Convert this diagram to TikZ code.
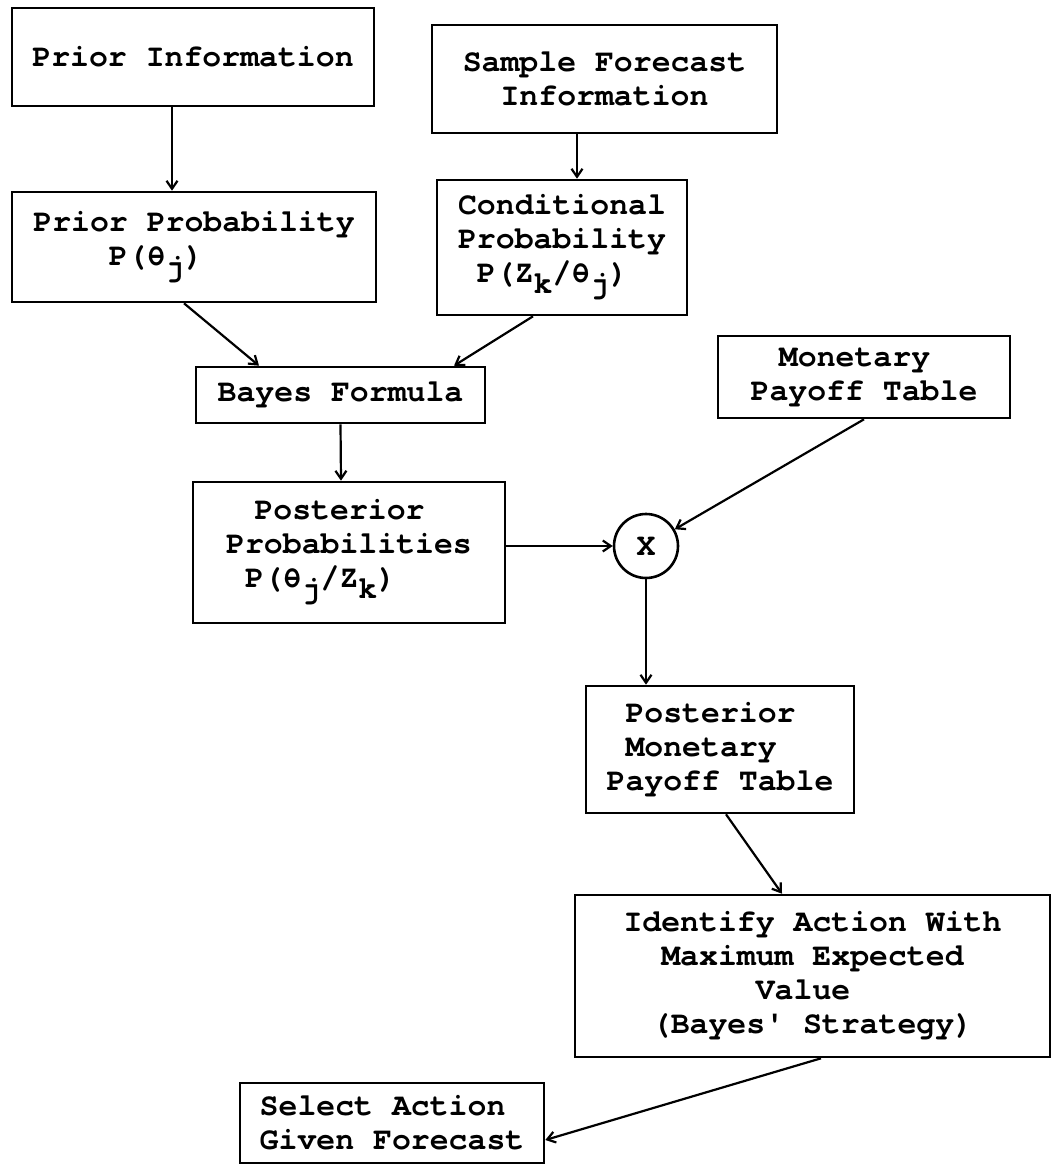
\documentclass[tikz,border=0pt]{standalone}
\usepackage{fontspec}
\newfontfamily\typer{TeX Gyre Cursor}[Ligatures={NoCommon}]
\usetikzlibrary{arrows.meta}
\newcommand{\lo}[1]{\raisebox{-11pt}{#1}}
\newcommand{\ind}[1]{\hspace*{#1em}}
\begin{document}
\begin{tikzpicture}[x=1pt,y=-1pt,
  box/.style={draw, line width=2.6pt, inner sep=0pt, align=left,
    font=\fontsize{31.5}{34}\typer\bfseries},
  conn/.style={line width=2.2pt, -{Straight Barb[length=8pt,width=11pt]}},
  mult/.style={draw, circle, line width=2.6pt, inner sep=0pt, minimum size=64pt,
    font=\fontsize{31.5}{34}\typer\bfseries}
]
\useasboundingbox (0,0) rectangle (1053,1166);

\node[box, minimum width=362pt, minimum height=98pt] (PI) at (193,57) {Prior Information};
\node[box, minimum width=345pt, minimum height=108pt] (SFI) at (604.5,79) {Sample Forecast\\\ind{1.2}Information};
\node[box, minimum width=364pt, minimum height=110pt] (PP) at (194,247) {Prior Probability\\\ind{2.4}P(θ\lo{j})};
\node[box, minimum width=250pt, minimum height=135pt] (CP) at (562,247.5) {Conditional\\Probability\\\ind{0.6}P(Z\lo{k}/θ\lo{j})};
\node[box, minimum width=289pt, minimum height=56pt] (BF) at (340.5,395) {Bayes Formula};
\node[box, minimum width=292pt, minimum height=82pt] (MPT) at (864,377) {\ind{0.9}Monetary\\Payoff Table};
\node[box, minimum width=312pt, minimum height=141pt] (PostP) at (349,552.5) {\ind{0.9}Posterior\\Probabilities\\\ind{0.6}P(θ\lo{j}/Z\lo{k})};
\node[mult] (X) at (646,546) {X};
\node[box, minimum width=268pt, minimum height=127pt] (PMPT) at (720,749.5) {\ind{0.6}Posterior\\\ind{0.6}Monetary\\Payoff Table};
\node[box, minimum width=475pt, minimum height=162pt] (IA) at (812.5,976) {Identify Action With\\\ind{1.2}Maximum Expected\\\ind{4.2}Value\\\ind{0.9}(Bayes' Strategy)};
\node[box, minimum width=304pt, minimum height=80pt] (SA) at (392,1123) {Select Action\\Given Forecast};

\draw[conn] ([xshift=-21pt]PI.south) -- ([xshift=-22pt]PP.north);
\draw[conn] ([xshift=-27.5pt]SFI.south) -- ([xshift=15pt]CP.north);
\draw[conn] ([xshift=-10pt]PP.south) -- ([xshift=-81.5pt]BF.north);
\draw[conn] ([xshift=-29pt]CP.south) -- ([xshift=113.5pt]BF.north);
\draw[conn] (BF.south) -- ([xshift=-8pt]PostP.north);
\draw[conn] ([yshift=6.5pt]PostP.east) -- (X.west);
\draw[conn] (MPT.south) -- (X);
\draw[conn] (X.south) -- ([xshift=-74pt]PMPT.north);
\draw[conn] ([xshift=6pt]PMPT.south) -- ([xshift=-30.5pt]IA.north);
\draw[conn] ([xshift=8.5pt]IA.south) -- ([yshift=-17pt]SA.east);
\end{tikzpicture}
\end{document}
